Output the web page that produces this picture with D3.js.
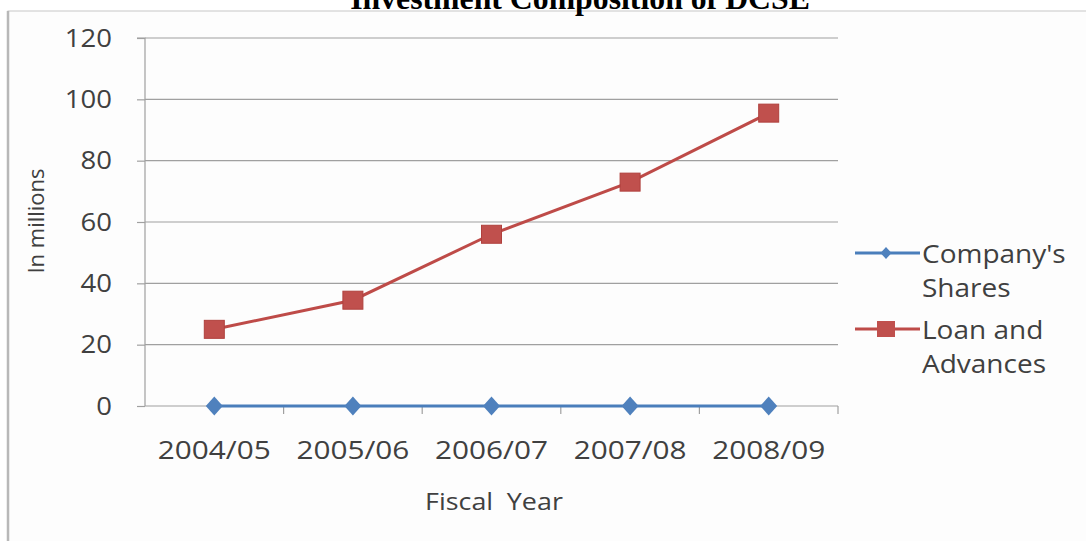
<!DOCTYPE html>
<html><head><meta charset="utf-8">
<script src="https://cdn.jsdelivr.net/npm/d3@7"></script>
<style>body{margin:0;background:#fff;}svg{display:block;}</style>
</head><body>
<svg id="c" width="1086" height="541"></svg>
<script>
const categories = ["2004/05","2005/06","2006/07","2007/08","2008/09"];
const companyShares = [0,0,0,0,0];
const loanAdvances = [25,34.5,56,73,95.5];
const yTicks = [0,20,40,60,80,100,120];
const seriesNames = ["Company's Shares","Loan and Advances"];

(function(){
const svg = d3.select("#c");
const W=1086,H=541;
svg.append("rect").attr("width",W).attr("height",H).attr("fill","#fff");
// chart border
svg.append("rect").attr("x",8).attr("y",11).attr("width",1100).attr("height",540)
  .attr("fill","#fdfdfd").attr("stroke","#c8c8c8").attr("stroke-width",1);
svg.append("line").attr("x1",8).attr("x2",8).attr("y1",11).attr("y2",541).attr("stroke","#b8b8b8").attr("stroke-width",2.5);

// title (partly clipped, as in the reference)
const title = svg.append("text").attr("x",580).attr("y",9).attr("text-anchor","middle")
  .attr("font-family","Liberation Serif, Times New Roman, serif").attr("font-weight","bold")
  .attr("font-size",24).attr("fill","#000").text("Investment Composition of DCSE");
const tl = title.node().getComputedTextLength();
title.attr("font-size",24*460/tl);

const pL=145,pR=838,pT=38,pB=406;
const x = d3.scaleBand().domain(categories).range([pL,pR]);
const y = d3.scaleLinear().domain([0,120]).range([pB,pT]);

const font = "Open Sans, DejaVu Sans, sans-serif";
const txtCol = "#404040";
// gridlines
svg.append("g").selectAll("line").data(yTicks.filter(d=>d>0)).join("line")
  .attr("x1",pL).attr("x2",pR).attr("y1",d=>y(d)).attr("y2",d=>y(d))
  .attr("stroke","#a0a0a0").attr("stroke-width",1.2);

// y axis
const ya = svg.append("g").attr("transform",`translate(${pL},0)`)
  .call(d3.axisLeft(y).tickValues(yTicks).tickSize(8).tickPadding(0));
ya.select(".domain").attr("stroke","#a0a0a0").attr("stroke-width",1.2).attr("d",`M-8,${pT}H0V${pB}`);
ya.selectAll(".tick line").attr("stroke","#a0a0a0").attr("stroke-width",1.2);
ya.selectAll("text").attr("x",null).attr("dy",null).attr("y",8)
  .attr("transform","translate(-33,0) scale(1.1,1)")
  .attr("font-family",font).attr("font-size",25).attr("fill",txtCol);

// x axis
const xa = svg.append("g").attr("transform",`translate(0,${pB})`)
  .call(d3.axisBottom(x).tickSize(0).tickPadding(0));
xa.select(".domain").attr("stroke","#a0a0a0").attr("stroke-width",1.2).attr("d",`M${pL},0H${pR}`);
xa.selectAll("text").attr("dy",null).attr("y",0)
  .attr("transform","translate(0,53) scale(1.19,1)")
  .attr("font-family",font).attr("font-size",25).attr("fill",txtCol);
// category boundary ticks
svg.append("g").selectAll("line").data(categories).join("line")
  .attr("x1",d=>x(d)+x.bandwidth()).attr("x2",d=>x(d)+x.bandwidth())
  .attr("y1",pB).attr("y2",pB+8).attr("stroke","#a0a0a0").attr("stroke-width",1.2);

const line = d3.line().x((d,i)=>x(categories[i])+x.bandwidth()/2).y(d=>y(d));
const blue="#4a7ebb", red="#be4b48";
// series
svg.append("path").datum(loanAdvances).attr("d",line).attr("fill","none").attr("stroke",red).attr("stroke-width",3);
svg.append("g").selectAll("rect").data(loanAdvances).join("rect")
  .attr("x",(d,i)=>x(categories[i])+x.bandwidth()/2-10).attr("y",d=>y(d)-9)
  .attr("width",20).attr("height",18).attr("fill","#c0504d").attr("stroke","#b0403d");
svg.append("path").datum(companyShares).attr("d",line).attr("fill","none").attr("stroke",blue).attr("stroke-width",3);
const diamond = (w,h)=>`M0,${-h}L${w},0L0,${h}L${-w},0Z`;
svg.append("g").selectAll("path").data(companyShares).join("path")
  .attr("transform",(d,i)=>`translate(${x(categories[i])+x.bandwidth()/2},${y(d)})`)
  .attr("d",diamond(8.5,9.5)).attr("fill","#4f81bd");

// axis titles
svg.append("text").attr("transform","translate(44,221) rotate(-90)").attr("text-anchor","middle")
  .attr("font-family",font).attr("font-size",22).attr("fill",txtCol).text("In millions");
svg.append("text").attr("transform","translate(494,510) scale(1.12,1)").attr("text-anchor","middle")
  .attr("font-family",font).attr("font-size",24).attr("fill",txtCol).attr("word-spacing",6).text("Fiscal Year");

// legend
const lg = [
  {name:seriesNames[0], color:blue, fill:"#4f81bd", shape:"diamond", y:253, lines:["Company's","Shares"]},
  {name:seriesNames[1], color:red, fill:"#c0504d", shape:"square", y:329, lines:["Loan and","Advances"]}
];
lg.forEach(l=>{
  svg.append("line").attr("x1",855).attr("x2",920).attr("y1",l.y).attr("y2",l.y).attr("stroke",l.color).attr("stroke-width",3);
  if(l.shape==="diamond"){
    svg.append("path").attr("transform",`translate(886,${l.y})`).attr("d",diamond(5.5,6)).attr("fill",l.fill);
  } else {
    svg.append("rect").attr("x",877).attr("y",l.y-8).attr("width",18).attr("height",16).attr("fill",l.fill);
  }
  const t = svg.append("text").attr("transform",`translate(922,${l.y+10}) scale(1.12,1)`)
    .attr("font-family",font).attr("font-size",25).attr("fill",txtCol);
  t.append("tspan").attr("x",0).text(l.lines[0]);
  t.append("tspan").attr("x",0).attr("dy",34).text(l.lines[1]);
});
})();
</script>
</body></html>
